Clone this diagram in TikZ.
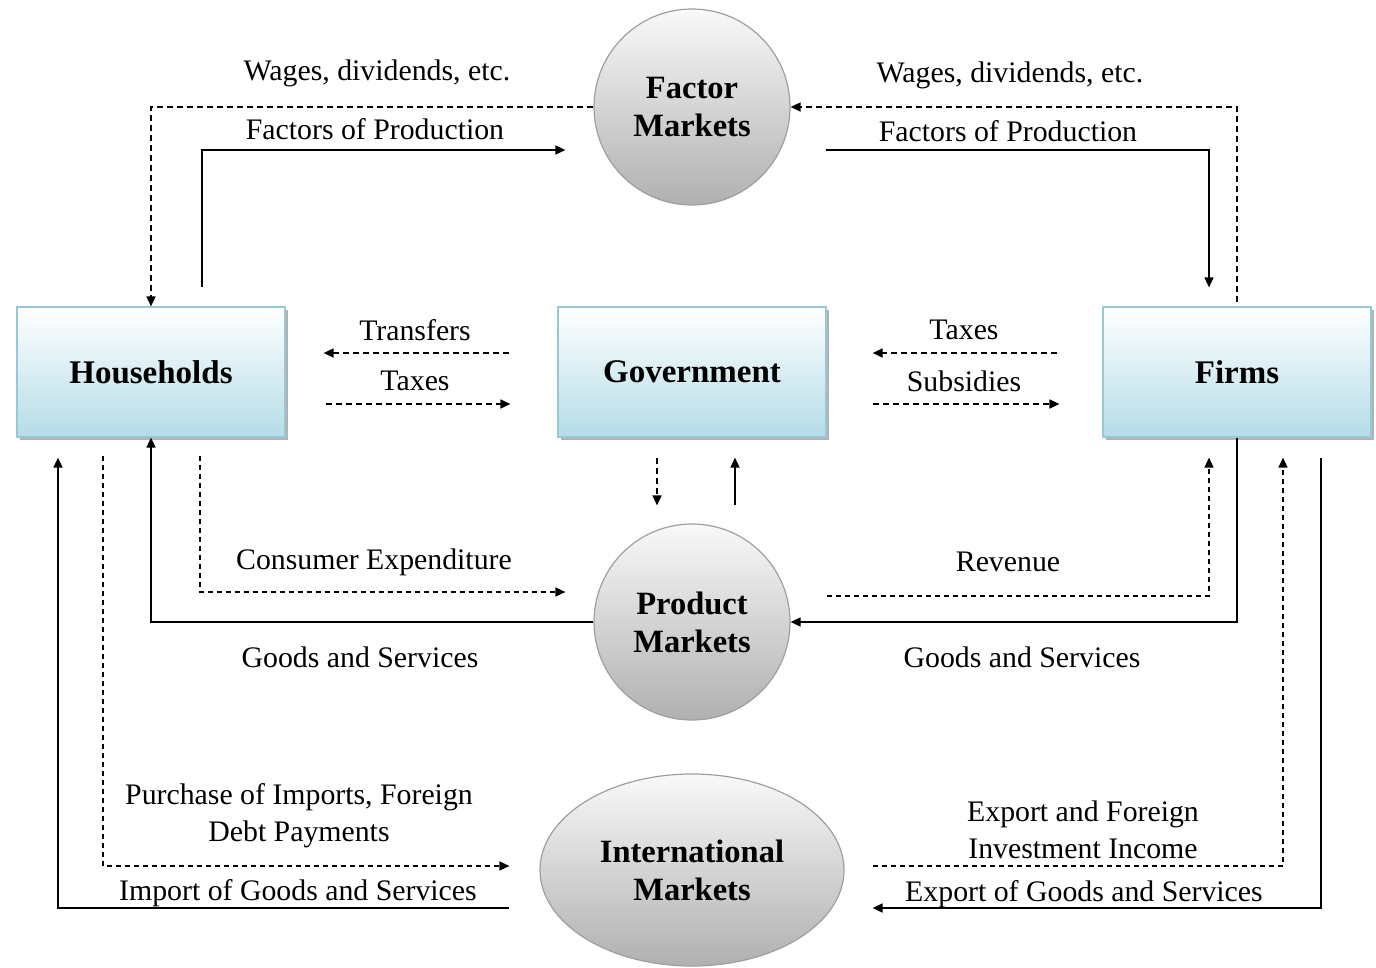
\documentclass[tikz,border=0pt]{standalone}
\usepackage{fontspec}
\setmainfont{Liberation Serif}
\usetikzlibrary{arrows.meta,shapes.geometric,shadows}
\begin{document}
\begin{tikzpicture}[x=1pt,y=-1pt,
  >={Triangle[length=10pt,width=9pt]},
  box/.style={rectangle,minimum width=268pt,minimum height=130pt,
    top color=white,bottom color={rgb,255:red,180;green,220;blue,231},
    draw={rgb,255:red,150;green,200;blue,215},line width=1.2pt,
    drop shadow={shadow xshift=3pt,shadow yshift=-3pt,fill=gray!60,opacity=1},
    font=\fontsize{33}{38}\selectfont\bfseries},
  mkt/.style={circle,minimum size=196pt,inner sep=0pt,
    top color=gray!5,bottom color=gray!62,draw=gray!75,line width=1.2pt,
    align=center,font=\fontsize{32.5}{38}\selectfont\bfseries},
  lbl/.style={inner sep=0pt,align=center,font=\fontsize{29.8}{37}\selectfont},
  sa/.style={->,line width=1.7pt},
  da/.style={->,line width=1.7pt,dash pattern=on 6pt off 4pt},
  dt/.style={->,line width=1.4pt,dash pattern=on 5pt off 4pt}]
\useasboundingbox (0,0) rectangle (1376,967);

% nodes
\node[box] (HH) at (151,372) {Households};
\node[box] (GV) at (692,372) {Government};
\node[box] (FI) at (1237,372) {Firms};
\node[mkt] (FM) at (692,107) {Factor\\Markets};
\node[mkt] (PM) at (692,622) {Product\\Markets};
\node[ellipse,minimum width=304pt,minimum height=192pt,inner sep=0pt,
  top color=gray!5,bottom color=gray!62,draw=gray!75,line width=1.2pt,
  align=center,font=\fontsize{32.5}{38}\selectfont\bfseries] (IM) at (692,870) {International\\Markets};

% labels
\node[lbl] (l1) at (377,73) {Wages, dividends, etc.};
\node[lbl] (l2) at (375,129) {Factors of Production};
\node[lbl] (l3) at (1010,75) {Wages, dividends, etc.};
\node[lbl] (l4) at (1008,131) {Factors of Production};
\node[lbl] (l5) at (415,330) {Transfers};
\node[lbl] (l6) at (415,381) {Taxes};
\node[lbl] (l7) at (964,330) {Taxes};
\node[lbl] (l8) at (964,381) {Subsidies};
\node[lbl] (l9) at (374,562) {Consumer Expenditure};
\node[lbl] (l10) at (360,657) {Goods and Services};
\node[lbl] (l11) at (1008,562) {Revenue};
\node[lbl] (l12) at (1022,657) {Goods and Services};
\node[lbl] (l13) at (299,816) {Purchase of Imports, Foreign\\Debt Payments};
\node[lbl] (l14) at (298,893) {Import of Goods and Services};
\node[lbl] (l15) at (1083,830) {Export and Foreign\\Investment Income};
\node[lbl] (l16) at (1084,894) {Export of Goods and Services};

% connectors: factor markets
\draw[da] (FM.west) -| (HH.north);
\draw[sa] ([xshift=51pt,yshift=19pt]HH.north) |- ([xshift=-28pt,yshift=-43pt]FM.west);
\draw[da] ([yshift=4pt]FI.north) |- (FM.east);
\draw[sa] ([xshift=35pt,yshift=-43pt]FM.east) -| ([xshift=-28pt,yshift=19pt]FI.north);

% government flows
\draw[da] ([xshift=-48pt,yshift=19pt]GV.west) -- ([xshift=38pt,yshift=19pt]HH.east);
\draw[da] ([xshift=40pt,yshift=-32pt]HH.east) -- ([xshift=-47pt,yshift=-32pt]GV.west);
\draw[da] ([xshift=-45pt,yshift=19pt]FI.west) -- ([xshift=46pt,yshift=19pt]GV.east);
\draw[da] ([xshift=46pt,yshift=-32pt]GV.east) -- ([xshift=-43pt,yshift=-32pt]FI.west);
\draw[da] ([xshift=-35pt,yshift=-20pt]GV.south) -- ([xshift=-35pt,yshift=18pt]PM.north);
\draw[sa] ([xshift=43pt,yshift=18pt]PM.north) -- ([xshift=43pt,yshift=-20pt]GV.south);

% product markets
\draw[dt] ([xshift=49pt,yshift=-18pt]HH.south) |- ([xshift=-28pt,yshift=30pt]PM.west);
\draw[sa] (PM.west) -| (HH.south);
\draw[dt] ([xshift=36pt,yshift=26pt]PM.east) -| ([xshift=-28pt,yshift=-20pt]FI.south);
\draw[sa] (FI.south) |- (PM.east);

% international markets
\draw[sa] ([xshift=-30pt,yshift=-38pt]IM.west) -| ([xshift=-93pt,yshift=-20pt]HH.south);
\draw[dt] ([xshift=-48pt,yshift=-18pt]HH.south) |- ([xshift=-30pt,yshift=4pt]IM.west);
\draw[dt] ([xshift=28pt,yshift=4pt]IM.east) -| ([xshift=46pt,yshift=-20pt]FI.south);
\draw[sa] ([xshift=84pt,yshift=-20pt]FI.south) |- ([xshift=28pt,yshift=-38pt]IM.east);
\end{tikzpicture}
\end{document}
